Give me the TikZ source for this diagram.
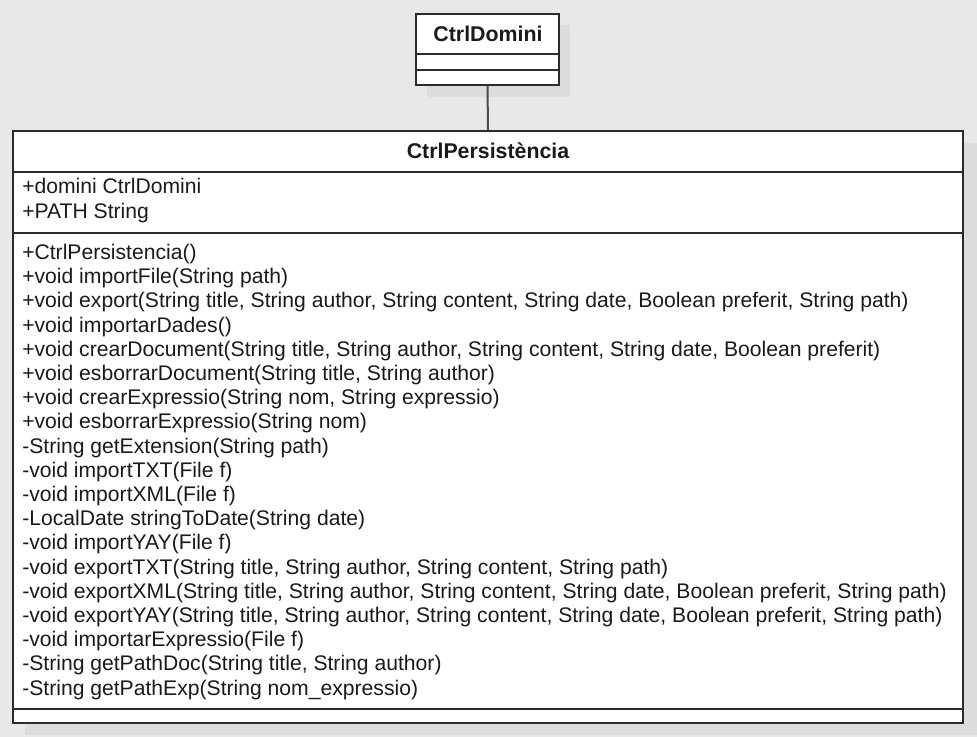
\documentclass[tikz,border=0pt]{standalone}
\usepackage{fontspec}
\setmainfont{Liberation Sans}
\definecolor{bgc}{HTML}{E8E8E8}
\definecolor{shd}{HTML}{DCDCDC}
\definecolor{strk}{HTML}{2B2B2B}
\definecolor{txt}{HTML}{1A1A1A}
\tikzset{
  classbox/.style={draw=strk, line width=1.5pt, fill=white, inner sep=0pt},
  divider/.style={draw=strk, line width=1.1pt},
  title/.style={font=\fontsize{16}{18}\selectfont\bfseries, text=txt, inner sep=0pt, anchor=base},
  member/.style={font=\fontsize{15.85}{18}\selectfont, text=txt, inner sep=0pt, anchor=base west},
  link/.style={draw=strk!85, line width=1.5pt}
}
\begin{document}
\begin{tikzpicture}[x=0.75pt,y=-0.75pt]
\fill[bgc] (0,0) rectangle (977,737);
\useasboundingbox (0,0) rectangle (977,737);
% shadows
\fill[shd] (427,25) rectangle (570,97);
\fill[shd] (25,143) rectangle (977,735);
% class boxes
\node[classbox, minimum width=107.25pt, minimum height=53.25pt] (dom) at (487.5,49.5) {};
\node[classbox, minimum width=712.5pt, minimum height=444pt] (per) at (488,427) {};
% dividers CtrlDomini
\draw[divider] (416,54) -- (559,54);
\draw[divider] (416,70) -- (559,70);
% dividers CtrlPersistencia
\draw[divider] (13,172) -- (963,172);
\draw[divider] (13,233) -- (963,233);
\draw[divider] (13,709) -- (963,709);
% connector
\draw[link] (dom.south) -- (per.north);
% titles
\node[title] (domt) at (488,42) {CtrlDomini};
\node[title] (pert) at (488,159) {CtrlPersistència};
% attributes
\node[member] (a1) at (22,194) {+domini CtrlDomini};
\node[member] (a2) at (22,218.5) {+PATH String};
% methods
\foreach \t [count=\i from 0] in {
 {+CtrlPersistencia()},
 {+void importFile(String path)},
 {+void export(String title, String author, String content, String date, Boolean preferit, String path)},
 {+void importarDades()},
 {+void crearDocument(String title, String author, String content, String date, Boolean preferit)},
 {+void esborrarDocument(String title, String author)},
 {+void crearExpressio(String nom, String expressio)},
 {+void esborrarExpressio(String nom)},
 {-String getExtension(String path)},
 {-void importTXT(File f)},
 {-void importXML(File f)},
 {-LocalDate stringToDate(String date)},
 {-void importYAY(File f)},
 {-void exportTXT(String title, String author, String content, String path)},
 {-void exportXML(String title, String author, String content, String date, Boolean preferit, String path)},
 {-void exportYAY(String title, String author, String content, String date, Boolean preferit, String path)},
 {-void importarExpressio(File f)},
 {-String getPathDoc(String title, String author)},
 {-String getPathExp(String nom\_expressio)}
}{
  \node[member] (m\i) at (22,{259.5+24.2*\i}) {\t};
}
\end{tikzpicture}
\end{document}
